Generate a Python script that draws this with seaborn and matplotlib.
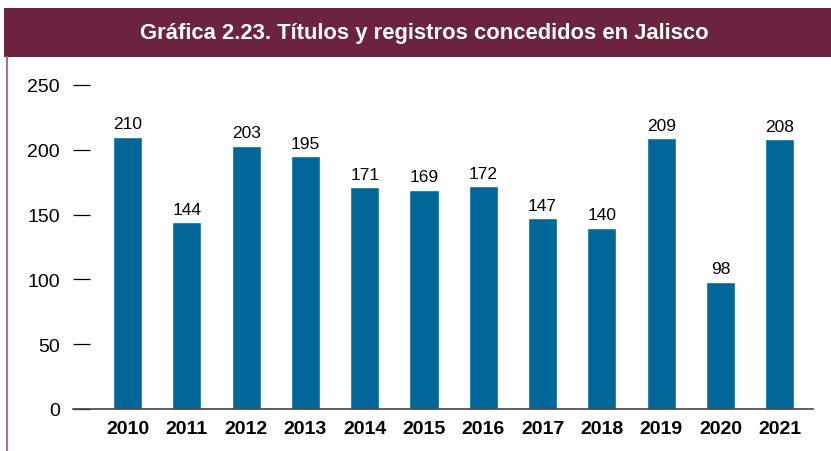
import matplotlib
matplotlib.use("Agg")
import matplotlib.pyplot as plt
import seaborn as sns
import pandas as pd
from matplotlib.patches import Rectangle
from matplotlib.lines import Line2D

years = ["2010", "2011", "2012", "2013", "2014", "2015", "2016", "2017", "2018", "2019", "2020", "2021"]
values = [210, 144, 203, 195, 171, 169, 172, 147, 140, 209, 98, 208]
yticks = [0, 50, 100, 150, 200, 250]
title = "Gráfica 2.23. Títulos y registros concedidos en Jalisco"

sns.set_theme(style="white")
fams = ["Liberation Sans Narrow", "Liberation Sans", "DejaVu Sans"]
plt.rcParams["font.family"] = fams

W, H = 831, 452
fig = plt.figure(figsize=(W / 100, H / 100), dpi=100)
fig.patch.set_facecolor("white")

# banner
fig.patches.append(Rectangle((4 / W, 1 - 58 / H), 1 - 4 / W, 49 / H, transform=fig.transFigure,
                             facecolor="#6b2340", edgecolor="none", zorder=0))
fig.lines.append(Line2D([6.5 / W, 6.5 / W], [0, 1 - 58 / H], transform=fig.transFigure,
                        color="#a8708a", lw=1.5))
fig.text(424 / W, 1 - 34 / H, title, ha="center", va="center", color="white",
         fontsize=15.8, fontweight="bold", family=fams)

ax = fig.add_axes([73 / W, 42 / H, (813 - 73) / W, (410 - 86) / H])
df = pd.DataFrame({"year": years, "value": values})
sns.barplot(data=df, x="year", y="value", color="#006798", saturation=1, width=0.49, ax=ax)

ax.set_ylim(0, 250)
ax.set_xlim(-0.92, 11.56)
ax.set_yticks(yticks)
ax.set_xlabel("")
ax.set_ylabel("")
for s in ["top", "right", "left"]:
    ax.spines[s].set_visible(False)
ax.spines["bottom"].set_color("#444444")
ax.spines["bottom"].set_linewidth(1.2)
ax.tick_params(axis="y", direction="in", length=12.5, width=0.9, color="black",
               pad=9.5, labelsize=14, labelcolor="black", left=True)
ax.tick_params(axis="x", length=0, pad=8, labelsize=14, labelcolor="black")
for lab in ax.get_xticklabels():
    lab.set_fontweight("bold")
for t in ax.yaxis.get_major_ticks():
    t.tick1line.set_clip_on(False)

for c in ax.containers:
    ax.bar_label(c, labels=[str(v) for v in values], padding=4, fontsize=12.5, color="black")

fig.savefig("out.png", dpi=100, facecolor="white")
